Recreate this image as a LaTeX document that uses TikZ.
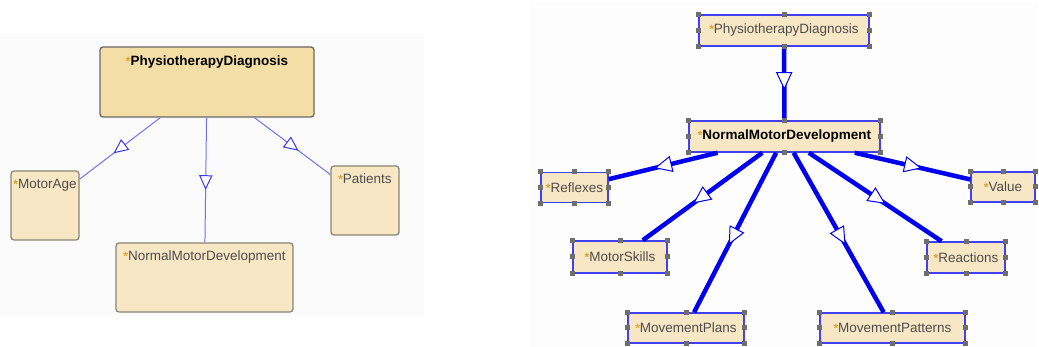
\documentclass[tikz,border=0pt]{standalone}
\usepackage{fontspec}
\setmainfont{Liberation Sans}
\usetikzlibrary{decorations.markings}

\definecolor{panelL}{HTML}{FBFBFC}
\definecolor{panelR}{HTML}{FDFDFE}
\definecolor{rootfill}{HTML}{F3DEA6}
\definecolor{childfill}{HTML}{F8E7C4}
\definecolor{rootgray}{HTML}{686868}
\definecolor{boxgray}{HTML}{8C8474}
\definecolor{txtgray}{HTML}{4D4D4D}
\definecolor{edgelt}{HTML}{7272F5}
\definecolor{tipblue}{HTML}{3A3AF0}
\definecolor{relblue}{HTML}{0000EE}
\definecolor{selblue}{HTML}{4040F0}
\definecolor{handlegray}{HTML}{6E6E6E}
\definecolor{starcol}{HTML}{D8A32A}

\newcommand{\starmark}{{\color{starcol}\fontsize{12}{12}\selectfont\bfseries *}}

\begin{document}
\begin{tikzpicture}[
  x=1pt, y=-1pt,
  font=\fontsize{13.5}{15}\selectfont,
  lbox/.style={draw=boxgray,line width=1.3pt,rounded corners=3pt,fill=childfill,text=txtgray,inner xsep=2pt,inner ysep=0pt,text height=18pt,text depth=51pt,minimum width=68pt},
  lroot/.style={lbox,draw=rootgray,fill=rootfill,text=black,font=\fontsize{13.5}{15}\selectfont\bfseries,minimum width=214pt,minimum height=70pt},
  rbox/.style={draw=selblue,line width=1.5pt,fill=childfill,text=txtgray,inner sep=0pt,minimum height=30pt},
  lrel/.style={draw=edgelt,line width=1pt,postaction=decorate,
    decoration={markings,mark=at position .57 with {\draw[tipblue,fill=white,line width=1pt] (0,0) -- (-13,6) -- (-13,-6) -- cycle;}}},
  rrel/.style={draw=relblue,line width=4.5pt,postaction=decorate,
    decoration={markings,mark=at position .57 with {\draw[relblue,fill=white,line width=1pt] (0,0) -- (-16,7.5) -- (-16,-7.5) -- cycle;}}},
  handle/.style={fill=handlegray}
]
\useasboundingbox (0,0) rectangle (1039,347);
\fill[panelL] (0,33) rectangle (424,316);
\fill[panelR] (529,3) rectangle (1037,347);

% left view: diagnosis and its three subclasses
\node[lroot] (lpd) at (207,82) {\starmark PhysiotherapyDiagnosis};
\node[lbox] (motorage) at (45,205.5) {\starmark MotorAge};
\node[lbox,minimum width=177pt] (lnmd) at (204.5,277.5) {\starmark NormalMotorDevelopment};
\node[lbox] (patients) at (365,200.5) {\starmark Patients};
\foreach \c in {motorage,lnmd,patients}{\draw[lrel] (lpd) -- (\c);}

% right view: normal motor development expanded
\node[rbox,minimum width=170pt,minimum height=31pt] (rpd) at (784,30.5) {\starmark PhysiotherapyDiagnosis};
\node[rbox,minimum width=191pt,minimum height=31pt,text=black,font=\fontsize{13.5}{15}\selectfont\bfseries] (rnmd) at (784.5,136.5) {\starmark NormalMotorDevelopment};
\node[rbox,minimum width=67pt] (reflexes) at (574.5,187.5) {\starmark Reflexes};
\node[rbox,minimum width=64pt] (value) at (1003,187) {\starmark Value};
\node[rbox,minimum width=94pt,minimum height=32pt] (motorskills) at (620,257) {\starmark MotorSkills};
\node[rbox,minimum width=78pt,minimum height=31pt] (reactions) at (966,257.5) {\starmark Reactions};
\node[rbox,minimum width=116pt] (movplans) at (686,328) {\starmark MovementPlans};
\node[rbox,minimum width=145pt] (movpatterns) at (892.5,328) {\starmark MovementPatterns};
\draw[rrel] (rpd) -- (rnmd);
\foreach \c in {reflexes,motorskills,movplans,movpatterns,reactions,value}{\draw[rrel] (rnmd) -- (\c);}

% selection handles
\foreach \n in {rpd,rnmd,reflexes,value,motorskills,reactions,movplans,movpatterns}{
  \foreach \a in {north west,north,north east,east,south east,south,south west,west}{
    \fill[handle] (\n.\a) ++(-2.5,-2.5) rectangle ++(5,5);
  }
}
\end{tikzpicture}
\end{document}
